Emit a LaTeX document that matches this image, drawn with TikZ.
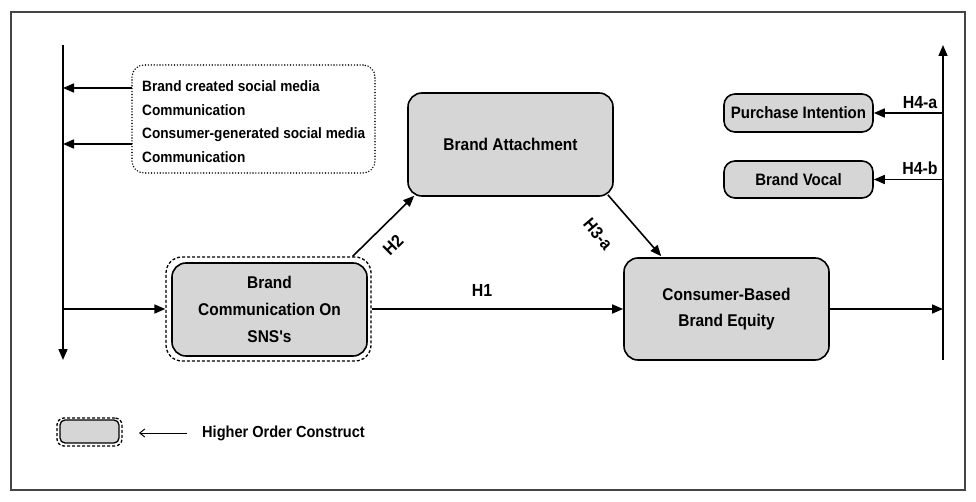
\documentclass[tikz,border=0pt]{standalone}
\usepackage{fontspec}
\setmainfont{Liberation Sans}[FakeStretch=0.91, Ligatures=TeXOff]
\usetikzlibrary{arrows.meta}
\definecolor{boxfill}{HTML}{D6D6D6}
\definecolor{framecol}{HTML}{444444}
\begin{document}
\begin{tikzpicture}[x=1pt,y=-1pt,
  box/.style={draw=black, line width=1.6pt, fill=boxfill, rounded corners=14pt, inner sep=0pt, align=center, font=\fontsize{17}{26}\selectfont\bfseries},
  smallbox/.style={box, rounded corners=11pt, font=\fontsize{16.5}{20}\selectfont\bfseries},
  hoc/.style={draw=black, line width=1.3pt, dash pattern=on 3pt off 2pt, rounded corners=16pt, inner sep=0pt},
  arr/.style={line width=1.6pt, -{Triangle[length=11pt,width=9pt]}},
  hl/.style={font=\fontsize{17.5}{20}\selectfont\bfseries, inner sep=0pt},
]
\useasboundingbox (0,0) rectangle (976,502);
\draw[framecol, line width=1.5pt] (11,12) rectangle (965,490);

% main boxes
\node[box, minimum width=205pt, minimum height=103pt] (ba) at (510.5,144.5) {Brand Attachment};
\node[box, minimum width=195pt, minimum height=93pt, font=\fontsize{17}{27}\selectfont\bfseries] (bc) at (269.5,309.5) {Brand\\Communication On\\SNS's};
\node[hoc, minimum width=205pt, minimum height=104pt] (bco) at (268.5,309) {};
\node[box, minimum width=205pt, minimum height=102pt] (cb) at (726.5,309) {Consumer-Based\\Brand Equity};
\node[smallbox, minimum width=149pt, minimum height=38pt] (pi) at (798.5,113) {Purchase Intention};
\node[smallbox, minimum width=149pt, minimum height=37pt] (bv) at (798.5,179.5) {Brand Vocal};

% dotted box
\node[draw=black, line width=1.6pt, dash pattern=on 0pt off 2.9pt, line cap=round, rounded corners=12pt, minimum width=243pt, minimum height=108pt, inner sep=0pt] (sm) at (253.5,119) {};
\node[anchor=west, align=left, inner sep=0pt, font=\fontsize{15}{23.5}\selectfont\bfseries] (smt) at (142,121.5) {Brand created social media\\Communication\\Consumer-generated social media\\Communication};

% left line
\coordinate (ltop) at (63,45);
\coordinate (lbot) at (63,360);
\draw[arr] (ltop) -- (lbot);
\coordinate (s1) at (132,88);
\coordinate (s2) at (132,144);
\draw[arr] (s1) -- (s1 -| ltop);
\draw[arr] (s2) -- (s2 -| ltop);
\draw[arr] (bco.west -| ltop) -- (bco.west);

% right line
\coordinate (rtop) at (943,45);
\coordinate (rbot) at (943,360);
\draw[arr] (rbot) -- (rtop);
\draw[arr] (cb.east) -- (cb.east -| rtop);
\draw[arr] (pi.east -| rtop) -- (pi.east);
\draw[arr] (bv.east -| rtop) -- (bv.east);
\node[hl] (h4a) at (920,103) {H4-a};
\node[hl] (h4b) at (920,168) {H4-b};

% hypotheses
\draw[arr] (bco.east) -- (cb.west);
\node[hl] (h1) at (482,290) {H1};
\draw[arr] ([xshift=-19pt]bco.north east) -- ([xshift=7pt,yshift=1pt]ba.south west);
\node[hl, rotate=45] (h2) at (393,245) {H2};
\draw[arr] ([xshift=-6pt,yshift=2pt]ba.south east) -- ([xshift=38pt,yshift=1pt]cb.north west);
\node[hl, rotate=-50] (h3) at (598,234) {H3-a};

% legend
\node[box, line width=1.3pt, rounded corners=5pt, minimum width=59pt, minimum height=23pt] (lg) at (89.5,431.5) {};
\node[hoc, rounded corners=7pt, minimum width=65pt, minimum height=28pt] (lgo) at (89.5,432) {};
\node[anchor=west, inner sep=0pt, font=\fontsize{16}{20}\selectfont\bfseries] (lt) at (202,433) {Higher Order Construct};
\coordinate (la) at (139,433);
\draw[line width=1pt, -{Straight Barb[length=5pt,width=8pt]}] ([xshift=-15pt]lt.west) -- (la);
\end{tikzpicture}
\end{document}
